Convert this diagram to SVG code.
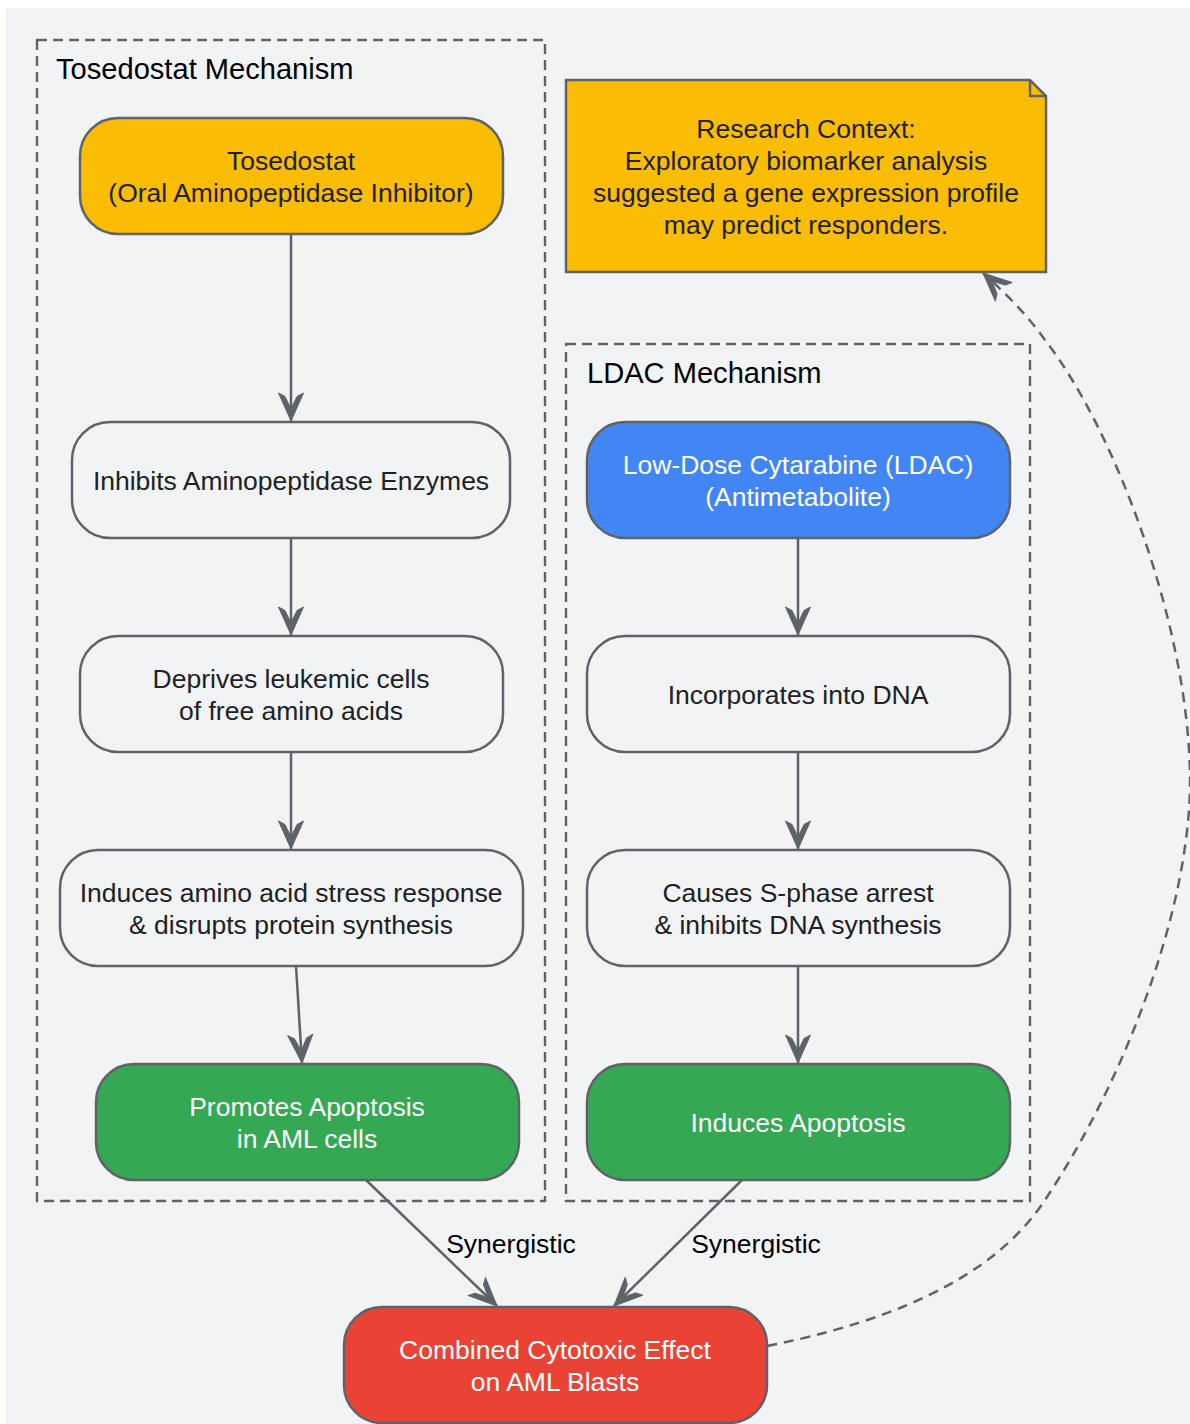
<svg xmlns="http://www.w3.org/2000/svg" width="1190" height="1424" viewBox="0 0 1190 1424">
<style>
.bg{fill:#f1f3f4}
.cl{fill:none;stroke:#5f6368;stroke-width:2.4;stroke-dasharray:10 6}
.nd{stroke:#5f6368;stroke-width:2.5}
.plain{fill:#f1f3f4}
.yel{fill:#fbbc04}
.blu{fill:#4285f4}
.grn{fill:#34a853}
.red{fill:#ea4335}
text{font-family:"Liberation Sans",Arial,sans-serif;font-size:26.5px}
.c{text-anchor:middle}
.dk{fill:#202124}
.wt{fill:#ffffff}
.ttl{font-size:29.1px;fill:#000000}
.lbl{fill:#000000}
.e{fill:none;stroke:#5f6368;stroke-width:2.5}
.dash{stroke-dasharray:10 7}
</style>
<defs>
<marker id="ah" viewBox="-31 -16 34 32" refX="0" refY="0" markerWidth="34" markerHeight="32" markerUnits="userSpaceOnUse" orient="auto">
<path d="M0,0 L-28,-12.5 L-24.5,-6 L-12,0 L-24.5,6 L-28,12.5 Z" fill="#5f6368" stroke="#5f6368" stroke-width="1" stroke-linejoin="round"/>
</marker>
</defs>
<rect class="bg" x="6" y="8" width="1184" height="1416"/>

<g id="cluster-tosedostat">
<rect class="cl" x="37" y="40" width="508" height="1161"/>
<text class="ttl" x="56" y="79">Tosedostat Mechanism</text>
</g>
<g id="cluster-ldac">
<rect class="cl" x="566" y="344" width="464" height="857"/>
<text class="ttl" x="587" y="383">LDAC Mechanism</text>
</g>

<g id="connectors">
<path class="e" d="M291,234 L291,421" marker-end="url(#ah)"/>
<path class="e" d="M291,538 L291,635" marker-end="url(#ah)"/>
<path class="e" d="M291,752 L291,849" marker-end="url(#ah)"/>
<path class="e" d="M296,966 L302,1063" marker-end="url(#ah)"/>
<path class="e" d="M366,1180 L497,1306" marker-end="url(#ah)"/>
<path class="e" d="M798,538 L798,635" marker-end="url(#ah)"/>
<path class="e" d="M798,752 L798,849" marker-end="url(#ah)"/>
<path class="e" d="M798,966 L798,1063" marker-end="url(#ah)"/>
<path class="e" d="M742,1180 L614,1306" marker-end="url(#ah)"/>
<path class="e dash" d="M767,1346 C950,1310 1015,1245 1045,1200 C1125,1080 1192,905 1190,775 C1188,625 1115,430 1045,340 C1025,312 1005,293 983,273" marker-end="url(#ah)"/>
<text class="lbl c" x="511" y="1253">Synergistic</text>
<text class="lbl c" x="756" y="1253">Synergistic</text>
</g>

<g id="node-tosedostat">
<rect class="nd yel" x="80" y="118" width="423" height="116" rx="38"/>
<text class="c dk" x="291" y="170">Tosedostat</text>
<text class="c dk" x="291" y="202">(Oral Aminopeptidase Inhibitor)</text>
</g>
<g id="node-inhibits">
<rect class="nd plain" x="72" y="422" width="438" height="116" rx="38"/>
<text class="c dk" x="291" y="490">Inhibits Aminopeptidase Enzymes</text>
</g>
<g id="node-deprives">
<rect class="nd plain" x="80" y="636" width="423" height="116" rx="38"/>
<text class="c dk" x="291" y="688">Deprives leukemic cells</text>
<text class="c dk" x="291" y="720">of free amino acids</text>
</g>
<g id="node-stress">
<rect class="nd plain" x="60" y="850" width="463" height="116" rx="38"/>
<text class="c dk" x="291" y="902">Induces amino acid stress response</text>
<text class="c dk" x="291" y="934">&amp; disrupts protein synthesis</text>
</g>
<g id="node-promotes">
<rect class="nd grn" x="96" y="1064" width="423" height="116" rx="38"/>
<text class="c wt" x="307" y="1116">Promotes Apoptosis</text>
<text class="c wt" x="307" y="1148">in AML cells</text>
</g>

<g id="node-note">
<path class="nd yel" d="M566,80 L1030,80 L1046,96 L1046,272 L566,272 Z"/>
<path d="M1030,80 L1030,96 L1046,96" fill="none" stroke="#5f6368" stroke-width="2.5"/>
<text class="c dk" x="806" y="138">Research Context:</text>
<text class="c dk" x="806" y="170">Exploratory biomarker analysis</text>
<text class="c dk" x="806" y="202">suggested a gene expression profile</text>
<text class="c dk" x="806" y="234">may predict responders.</text>
</g>

<g id="node-ldac">
<rect class="nd blu" x="587" y="422" width="423" height="116" rx="38"/>
<text class="c wt" x="798" y="474">Low-Dose Cytarabine (LDAC)</text>
<text class="c wt" x="798" y="506">(Antimetabolite)</text>
</g>
<g id="node-incorporates">
<rect class="nd plain" x="587" y="636" width="423" height="116" rx="38"/>
<text class="c dk" x="798" y="704">Incorporates into DNA</text>
</g>
<g id="node-sphase">
<rect class="nd plain" x="587" y="850" width="423" height="116" rx="38"/>
<text class="c dk" x="798" y="902">Causes S-phase arrest</text>
<text class="c dk" x="798" y="934">&amp; inhibits DNA synthesis</text>
</g>
<g id="node-induces">
<rect class="nd grn" x="587" y="1064" width="423" height="116" rx="38"/>
<text class="c wt" x="798" y="1132">Induces Apoptosis</text>
</g>

<g id="node-combined">
<rect class="nd red" x="344" y="1307" width="423" height="116" rx="38"/>
<text class="c wt" x="555" y="1359">Combined Cytotoxic Effect</text>
<text class="c wt" x="555" y="1391">on AML Blasts</text>
</g>
</svg>
